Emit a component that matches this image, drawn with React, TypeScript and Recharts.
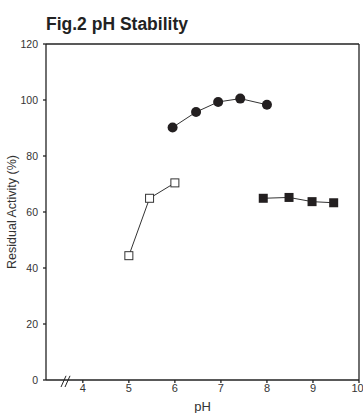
import React from "react";
import {
  ScatterChart,
  Scatter,
  XAxis,
  YAxis,
  ReferenceLine,
  Label,
} from "recharts";

const ACID_PH = [5, 5.45, 6];
const ACID_ACT = [44.4, 64.9, 70.4];
const MID_PH = [5.95, 6.46, 6.94, 7.42, 8];
const MID_ACT = [90.2, 95.7, 99.3, 100.5, 98.3];
const BASE_PH = [7.92, 8.48, 8.98, 9.45];
const BASE_ACT = [64.9, 65.2, 63.7, 63.3];

const X_TICKS = [4, 5, 6, 7, 8, 9, 10];
const Y_TICKS = [0, 20, 40, 60, 80, 100, 120];

const toPoints = (xs: number[], ys: number[]) =>
  xs.map((x, i) => ({ ph: x, act: ys[i] }));

const INK = "#222";
const FONT = "'Liberation Sans', Arial, sans-serif";

const OpenSquare = (p: any) => (
  <rect x={p.cx - 4} y={p.cy - 4} width={8} height={8} fill="#fff" stroke="#333" strokeWidth={1} />
);
const FilledSquare = (p: any) => (
  <rect x={p.cx - 4.5} y={p.cy - 4.5} width={9} height={9} fill="#231f20" />
);
const FilledCircle = (p: any) => <circle cx={p.cx} cy={p.cy} r={5} fill="#231f20" />;

export default function App() {
  return (
    <div style={{ position: "relative", width: 363, height: 413, background: "#fff" }}>
      <style>{`body{margin:0}`}</style>
      <div
        style={{
          position: "absolute",
          left: 46,
          top: 14,
          fontFamily: FONT,
          fontWeight: 700,
          fontSize: 17.5,
          color: "#222",
          lineHeight: "20px",
        }}
      >
        Fig.2 pH Stability
      </div>
      <ScatterChart width={363} height={413} margin={{ top: 44, right: 4, bottom: 0, left: 0 }}>
        <XAxis
          type="number"
          dataKey="ph"
          domain={[3.2, 10]}
          ticks={X_TICKS}
          allowDataOverflow
          height={33}
          stroke={INK}
          strokeWidth={1.3}
          tickSize={3}
          tickMargin={1}
          tick={{ fill: "#333", fontSize: 11, fontFamily: FONT }}
        >
          <Label value="pH" position="insideBottom" offset={2} fill="#333" fontSize={13} fontFamily={FONT} />
        </XAxis>
        <YAxis
          type="number"
          dataKey="act"
          domain={[0, 120]}
          ticks={Y_TICKS}
          width={46}
          stroke={INK}
          strokeWidth={1.3}
          tickSize={3}
          tickMargin={5}
          tick={{ fill: "#333", fontSize: 10.5, fontFamily: FONT }}
        >
          <Label
            value="Residual Activity (%)"
            angle={-90}
            position="insideLeft"
            offset={12}
            style={{ textAnchor: "middle" }}
            fill="#333"
            fontSize={12.5}
            fontFamily={FONT}
          />
        </YAxis>
        <ReferenceLine y={120} stroke={INK} strokeWidth={1.3} />
        <ReferenceLine x={10} stroke={INK} strokeWidth={1.3} />
        <ReferenceLine
          segment={[{ x: 3.526, y: -2.5 }, { x: 3.635, y: 1.5 }]}
          stroke={INK}
          strokeWidth={1}
          ifOverflow="visible"
        />
        <ReferenceLine
          segment={[{ x: 3.613, y: -2.5 }, { x: 3.722, y: 1.5 }]}
          stroke={INK}
          strokeWidth={1}
          ifOverflow="visible"
        />
        <Scatter
          data={toPoints(ACID_PH, ACID_ACT)}
          line={{ stroke: "#333", strokeWidth: 1 }}
          shape={OpenSquare}
          isAnimationActive={false}
        />
        <Scatter
          data={toPoints(MID_PH, MID_ACT)}
          line={{ stroke: "#333", strokeWidth: 1 }}
          shape={FilledCircle}
          isAnimationActive={false}
        />
        <Scatter
          data={toPoints(BASE_PH, BASE_ACT)}
          line={{ stroke: "#333", strokeWidth: 1 }}
          shape={FilledSquare}
          isAnimationActive={false}
        />
      </ScatterChart>
    </div>
  );
}
